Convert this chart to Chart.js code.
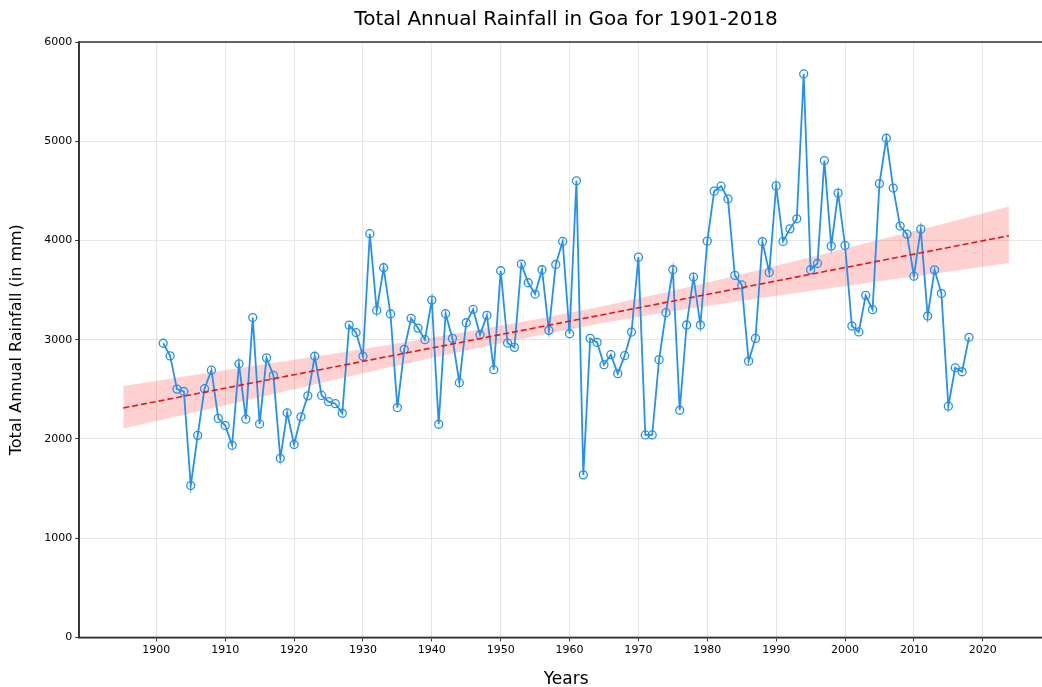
<!DOCTYPE html>
<html>
<head>
<meta charset="utf-8">
<script src="https://cdn.jsdelivr.net/npm/chart.js@4.4.1/dist/chart.umd.min.js"></script>
<style>
  html, body { margin: 0; padding: 0; background: #fff; overflow: hidden; }
  #wrap { width: 1060px; height: 690px; position: relative; }
</style>
</head>
<body>
<div id="wrap"><canvas id="rainChart"></canvas></div>
<script>
// annual rainfall, 1901-2018
var years = [];
for (var y = 1901; y <= 2018; y++) years.push(y);

var rainfall = [
  2964, 2837, 2502, 2478, 1530, 2036, 2506, 2693, 2207, 2135,
  1936, 2757, 2199, 3223, 2151, 2817, 2641, 1805, 2263, 1944,
  2223, 2434, 2833, 2438, 2375, 2355, 2259, 3147, 3072, 2833,
  4068, 3295, 3725, 3259, 2316, 2903, 3215, 3117, 3000, 3399,
  2148, 3262, 3013, 2567, 3171, 3305, 3050, 3245, 2698, 3695,
  2966, 2923, 3762, 3574, 3460, 3705, 3094, 3758, 3990, 3060,
  4601, 1638, 3013, 2973, 2748, 2849, 2658, 2839, 3077, 3832,
  2040, 2040, 2799, 3272, 3705, 2289, 3148, 3631, 3148, 3993,
  4497, 4547, 4419, 3648, 3552, 2784, 3013, 3988, 3678, 4550,
  3990, 4117, 4218, 5678, 3705, 3768, 4805, 3943, 4477, 3950,
  3138, 3078, 3447, 3303, 4573, 5030, 4528, 4145, 4064, 3640,
  4114, 3239, 3704, 3465, 2330, 2717, 2677, 3024
];

// regression line and its confidence band
var trendX = [1895.2, 2023.8];
var trendY = [2312, 4048];
var bandX     = [1895.2, 1905, 1915, 1925, 1935, 1945, 1955, 1965, 1975, 1985, 1995, 2005, 2015, 2023.8];
var bandUpper = [2534, 2639, 2744, 2852, 2961, 3079, 3203, 3339, 3494, 3659, 3831, 4006, 4181, 4343];
var bandLower = [2104, 2259, 2421, 2582, 2741, 2892, 3037, 3171, 3287, 3392, 3491, 3589, 3684, 3773];

var xTicks = [1900, 1910, 1920, 1930, 1940, 1950, 1960, 1970, 1980, 1990, 2000, 2010, 2020];

function pts(xs, ys) {
  return xs.map(function (x, i) { return { x: x, y: ys[i] }; });
}

var frame = {
  id: 'frame',
  afterDraw: function (chart) {
    var a = chart.chartArea, ctx = chart.ctx;
    ctx.save();
    ctx.strokeStyle = '#333';
    ctx.lineWidth = 1.5;
    ctx.strokeRect(a.left, a.top, a.right - a.left, a.bottom - a.top);
    ctx.restore();
  }
};

Chart.defaults.font.family = 'DejaVu Sans';
Chart.defaults.color = '#000';

new Chart(document.getElementById('rainChart'), {
  type: 'line',
  data: {
    datasets: [{
      label: 'Fit',
      data: pts(trendX, trendY),
      borderColor: '#e8141b',
      borderWidth: 1.6,
      borderDash: [6, 3],
      pointRadius: 0,
      fill: false,
      order: 0
    }, {
      label: 'Rainfall',
      data: pts(years, rainfall),
      borderColor: '#2490f0',
      borderWidth: 1.8,
      pointRadius: 4,
      pointBorderWidth: 1.3,
      pointBackgroundColor: 'rgba(0,0,0,0)',
      pointBorderColor: '#2490f0',
      tension: 0,
      fill: false,
      order: 1
    }, {
      label: 'CI upper',
      data: pts(bandX, bandUpper),
      borderWidth: 0,
      borderColor: 'rgba(0,0,0,0)',
      pointRadius: 0,
      backgroundColor: 'rgba(255,0,0,0.18)',
      fill: '+1',
      order: 2
    }, {
      label: 'CI lower',
      data: pts(bandX, bandLower),
      borderWidth: 0,
      borderColor: 'rgba(0,0,0,0)',
      pointRadius: 0,
      fill: false,
      order: 3
    }]
  },
  options: {
    responsive: true,
    maintainAspectRatio: false,
    animation: false,
    devicePixelRatio: 1,
    layout: { padding: { left: 0, right: 7, top: 0, bottom: 0 } },
    plugins: {
      legend: { display: false },
      tooltip: { enabled: false },
      title: {
        display: true,
        fullSize: false,
        text: 'Total Annual Rainfall in Goa for 1901-2018',
        font: { size: 20, weight: 'normal' },
        padding: { top: 8, bottom: 10 }
      }
    },
    scales: {
      x: {
        type: 'linear',
        min: 1888.8,
        max: 2030.2,
        afterBuildTicks: function (axis) {
          axis.ticks = xTicks.map(function (v) { return { value: v }; });
        },
        ticks: {
          font: { size: 11 },
          padding: 2,
          maxRotation: 0,
          callback: function (v) { return String(v); }
        },
        grid: { color: '#e6e6e6', lineWidth: 1, tickColor: '#333', tickLength: 4 },
        border: { display: true, color: '#333', width: 1.5 },
        title: {
          display: true,
          text: 'Years',
          font: { size: 17 },
          padding: { top: 11, bottom: 0 }
        }
      },
      y: {
        min: 0,
        max: 6000,
        ticks: {
          stepSize: 1000,
          font: { size: 11 },
          padding: 3,
          callback: function (v) { return String(v); }
        },
        grid: { color: '#e6e6e6', lineWidth: 1, tickColor: '#333', tickLength: 4 },
        border: { display: true, color: '#333', width: 1.5 },
        title: {
          display: true,
          text: 'Total Annual Rainfall (in mm)',
          font: { size: 16 },
          padding: { top: 7, bottom: 15 }
        }
      }
    }
  },
  plugins: [frame]
});
</script>
</body>
</html>
